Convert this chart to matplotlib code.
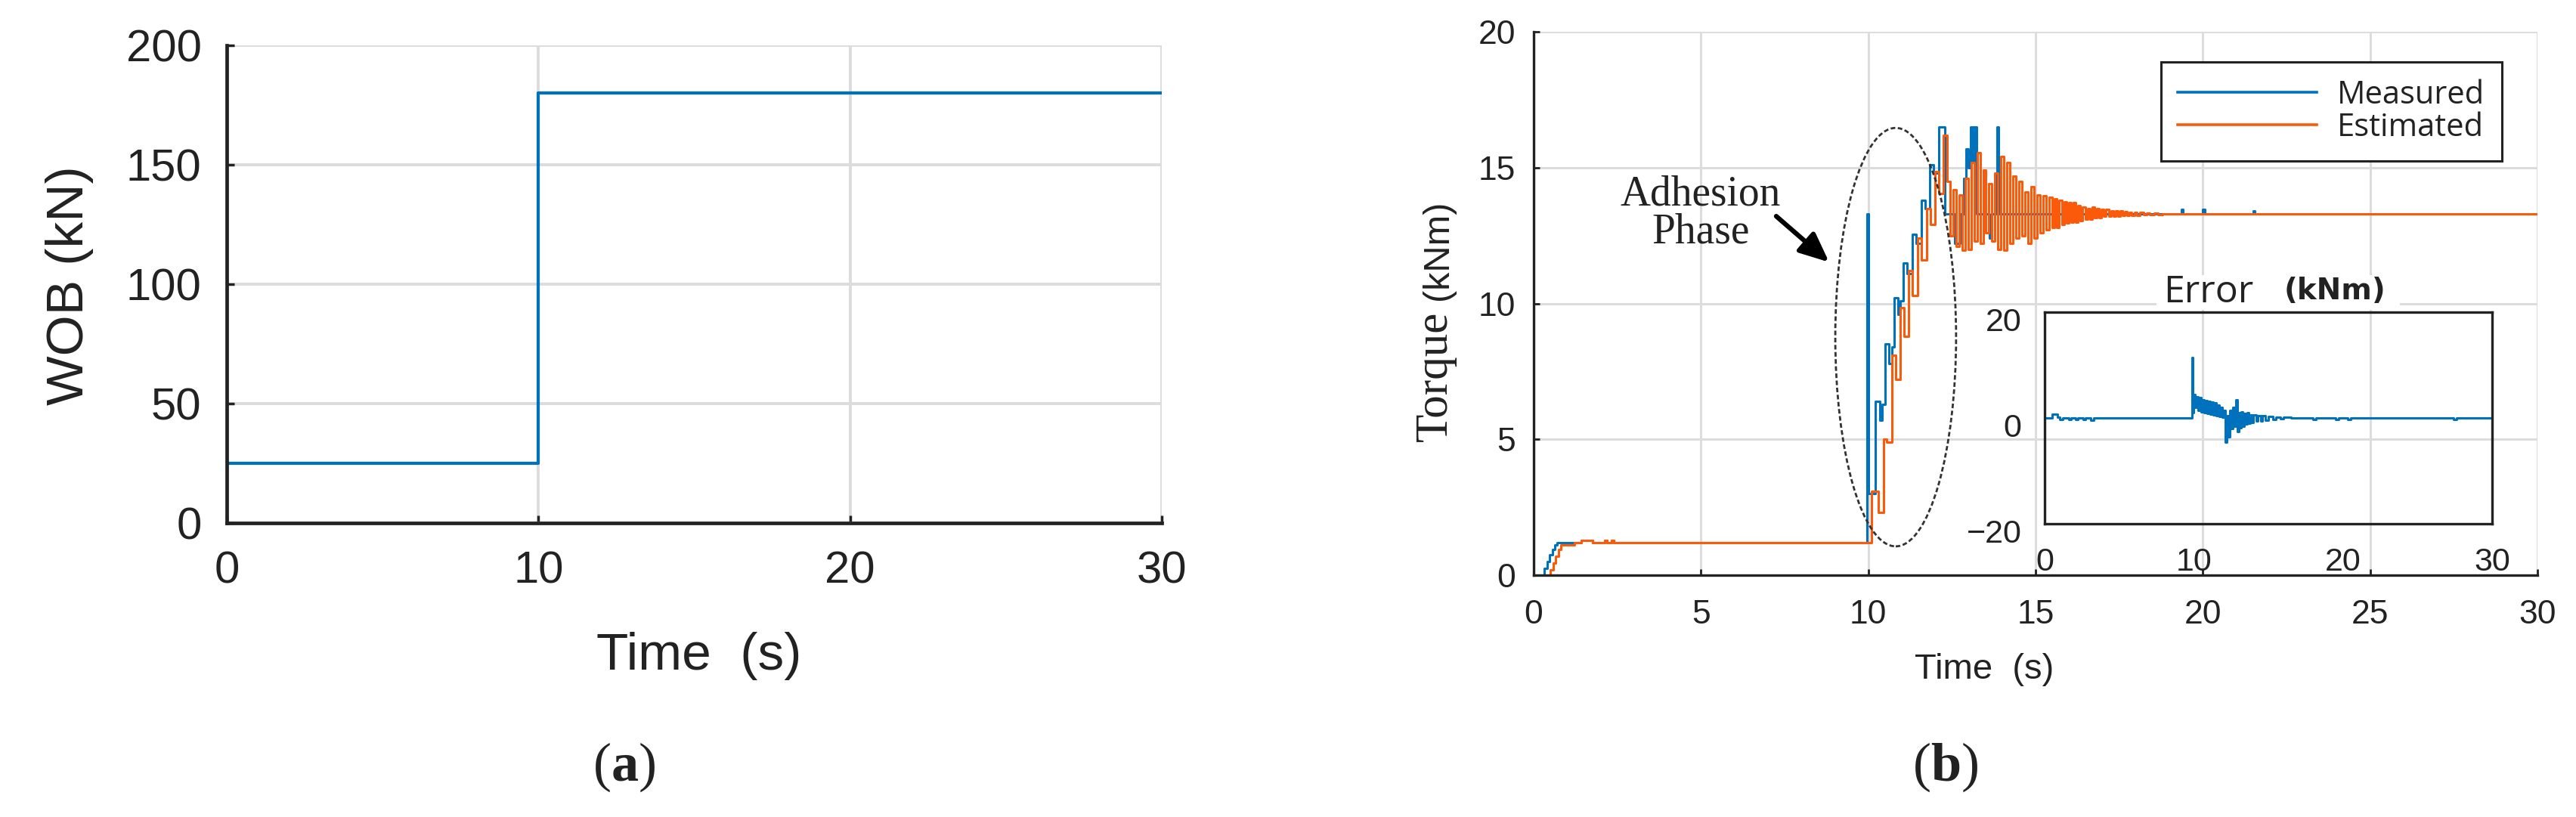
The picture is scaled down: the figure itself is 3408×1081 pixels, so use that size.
import matplotlib
matplotlib.use("Agg")
import matplotlib.pyplot as plt
import matplotlib.transforms as mtransforms
from matplotlib.patches import Ellipse, Rectangle

W, H, DPI = 3408, 1081, 100

# ---------------- data ----------------
wob_time = [0, 10, 30]
wob_kn = [25, 180, 180]

meas_time = [0, 0.32, 0.40, 0.48, 0.56, 0.64, 0.70, 1.42, 1.76, 2.12, 2.20, 2.33, 2.40,
             9.96, 10.00, 10.20, 10.35, 10.42, 10.50, 10.62, 10.70, 10.77, 10.88, 10.95,
             11.05, 11.16, 11.31, 11.42, 11.59, 11.70, 11.84, 11.95, 12.11, 12.29, 12.58,
             12.75, 12.85, 12.92, 13.00, 13.05, 13.12, 13.18, 13.23, 13.62, 13.70, 13.85,
             13.90, 16.90, 16.95, 19.35, 19.40, 20.00, 20.05, 21.50, 21.55, 30]
meas_torque = [0, 0.25, 0.5, 0.75, 0.95, 1.1, 1.2, 1.28, 1.2, 1.28, 1.2, 1.28, 1.2,
               13.3, 3.0, 6.4, 5.7, 6.3, 8.5, 7.8, 8.4, 10.2, 9.6, 10.1,
               11.5, 11.1, 12.55, 12.2, 13.8, 13.5, 15.1, 14.8, 16.5, 13.3, 12.2,
               13.3, 14.6, 15.7, 15.0, 16.5, 15.2, 16.5, 13.3, 12.4, 13.3, 16.5,
               13.3, 13.2, 13.3, 13.45, 13.3, 13.45, 13.3, 13.4, 13.3, 13.3]

est_time = [0, 0.50, 0.58, 0.66, 0.74, 0.82, 1.22, 1.42, 1.76, 2.12,
            2.20, 2.33, 2.40, 10.10, 10.30, 10.45, 10.55, 10.70, 10.82, 10.96,
            11.06, 11.20, 11.32, 11.47, 11.58, 11.74, 11.85, 12.00, 12.10, 12.25,
            12.35, 12.44, 12.53, 12.62, 12.71, 12.80, 12.89, 12.98, 13.07, 13.16,
            13.25, 13.34, 13.43, 13.52, 13.61, 13.70, 13.79, 13.88, 13.97, 14.06,
            14.15, 14.24, 14.33, 14.42, 14.51, 14.60, 14.69, 14.78, 14.87, 14.96,
            15.05, 15.14, 15.23, 15.32, 15.41, 15.50, 15.57, 15.64, 15.71, 15.78,
            15.85, 15.92, 15.99, 16.06, 16.13, 16.20, 16.27, 16.34, 16.41, 16.48,
            16.55, 16.62, 16.69, 16.76, 16.83, 16.90, 16.97, 17.04, 17.11, 17.18,
            17.25, 17.32, 17.39, 17.46, 17.53, 17.60, 17.67, 17.74, 17.81, 17.88,
            17.95, 18.02, 18.12, 18.22, 18.32, 18.42, 18.55, 18.65, 18.80, 30]
est_torque = [0, 0.2, 0.45, 0.7, 0.95, 1.11, 1.2, 1.28, 1.2, 1.28,
              1.2, 1.28, 1.2, 3.1, 2.3, 5.0, 4.9, 8.1, 7.2, 9.85,
              8.8, 11.2, 10.3, 12.4, 11.6, 13.5, 12.9, 14.85, 14.05, 16.2,
              14.5, 12.5, 14.2, 12.1, 14.0, 11.95, 14.6, 12.0, 15.2, 12.3,
              15.55, 12.2, 14.9, 12.6, 14.4, 12.3, 14.8, 12.0, 15.4, 11.95,
              15.2, 12.2, 14.7, 12.4, 14.5, 12.5, 14.1, 12.2, 14.3, 12.4,
              14.0, 12.6, 13.95, 12.7, 13.9, 12.8, 13.85, 12.8, 13.8, 12.9,
              13.75, 12.95, 13.7, 13.0, 13.7, 13.0, 13.6, 13.05, 13.55, 13.1,
              13.5, 13.1, 13.55, 13.15, 13.5, 13.15, 13.45, 13.2, 13.45, 13.2,
              13.4, 13.2, 13.4, 13.22, 13.4, 13.23, 13.37, 13.24, 13.36, 13.25,
              13.35, 13.25, 13.34, 13.26, 13.33, 13.27, 13.32, 13.28, 13.3, 13.3]

err_time = [0, 0.5, 0.85, 1.0, 1.2, 1.6, 1.75, 2.1, 2.25, 2.6, 2.75, 3.1, 3.3,
            9.9, 9.95, 10.0, 10.1, 10.2, 10.3, 10.4, 10.5, 10.6, 10.7, 10.8, 10.9,
            11.0, 11.1, 11.2, 11.3, 11.4, 11.5, 11.6, 11.7, 11.8, 11.9, 12.0, 12.1,
            12.2, 12.3, 12.4, 12.5, 12.6, 12.7, 12.8, 12.9, 13.0, 13.1, 13.2, 13.3,
            13.4, 13.5, 13.6, 13.7, 13.8, 13.9, 14.0, 14.2, 14.3, 14.5, 14.6, 14.8,
            15.0, 15.3, 15.5, 15.8, 16.0, 16.5, 18.0, 18.2, 19.5, 19.7, 20.3, 20.5,
            27.4, 27.6, 29.9]
err_value = [0, 0.7, 0.1, -0.3, 0, -0.35, 0, -0.35, 0, -0.35, 0, -0.4, 0,
             11.5, 1.0, 4.5, 2.0, 4.0, 1.5, 3.8, 1.2, 3.5, 1.0, 3.3, 0.8,
             3.2, 0.7, 3.0, 0.6, 2.8, 0.5, 2.5, 0.3, 2.0, 0.2, 1.5, -4.5,
             0.5, -3.5, 1.5, -2.0, 2.0, -1.5, 3.5, -2.5, 1.0, -1.8, 1.2, -1.5,
             0.8, -1.2, 1.0, -1.0, 0.6, -0.8, 0.6, -0.6, 0.5, -0.5, 0.4, -0.4,
             0.3, -0.3, 0.2, -0.2, 0.2, 0, -0.3, 0, -0.3, 0, -0.3, 0,
             -0.25, 0, 0]

a_xticks = [0, 10, 20, 30]
a_yticks = [0, 50, 100, 150, 200]
b_xticks = [0, 5, 10, 15, 20, 25, 30]
b_yticks = [0, 5, 10, 15, 20]
in_xticks = [0, 10, 20, 30]
in_yticks = [-20, 0, 20]
legend_labels = ["Measured", "Estimated"]

BLUE = "#0072BD"
ORANGE = "#FA5A0A"
GRID = "#DCDCDC"
INK = "#222222"

plt.rcParams["font.family"] = ["Liberation Sans", "DejaVu Sans"]
plt.rcParams["mathtext.fontset"] = "custom"
plt.rcParams["mathtext.rm"] = "Liberation Serif"
plt.rcParams["mathtext.bf"] = "Liberation Serif:bold"
plt.rcParams["text.color"] = INK

fig = plt.figure(figsize=(W / DPI, H / DPI), dpi=DPI)


def rect(l, t, r, b):
    return [l / W, 1 - b / H, (r - l) / W, (b - t) / H]


def fx(px):
    return px / W


def fy(py):
    return 1 - py / H


def style_axes(ax, spine_lw, tick_len, tick_w, labelsize, pad_x, pad_y):
    for s in ["top", "right"]:
        ax.spines[s].set_visible(False)
    for s in ["left", "bottom"]:
        ax.spines[s].set_linewidth(spine_lw)
        ax.spines[s].set_color(INK)
    ax.tick_params(direction="in", length=tick_len, width=tick_w, colors=INK,
                   labelsize=labelsize)
    ax.tick_params(axis="x", pad=pad_x)
    ax.tick_params(axis="y", pad=pad_y)
    ax.set_axisbelow(True)


# ---------------- panel (a) ----------------
ax_a = fig.add_axes(rect(300, 60, 1537, 692))
ax_a.step(wob_time, wob_kn, where="post", color=BLUE, lw=3)
ax_a.set_xlim(0, 30)
ax_a.set_ylim(0, 200)
ax_a.set_xticks(a_xticks)
ax_a.set_yticks(a_yticks)
ax_a.grid(True, color=GRID, lw=2.8)
style_axes(ax_a, 3.4, 7, 2.5, 43, 26, 24)

fig.text(fx(92), fy(378), "WOB (kN)", rotation=90, ha="center", va="center", fontsize=50)
fig.text(fx(925), fy(868), "Time  (s)", ha="center", va="center", fontsize=50)
fig.text(fx(826), fy(1015), r"($\mathbf{a}$)", ha="center", va="center", fontsize=52,
         family="Liberation Serif")

# ---------------- panel (b) ----------------
ax_b = fig.add_axes(rect(2029, 42, 3357, 761))
ax_b.set_zorder(0)
l1, = ax_b.step(meas_time, meas_torque, where="post", color=BLUE, lw=2.2)
l2, = ax_b.step(est_time, est_torque, where="post", color=ORANGE, lw=2.2)
ax_b.set_xlim(0, 30)
ax_b.set_ylim(0, 20)
ax_b.set_xticks(b_xticks)
ax_b.set_yticks(b_yticks)
ax_b.grid(True, color=GRID, lw=2.2)
style_axes(ax_b, 2.4, 6, 2.0, 32, 23, 17)

# adhesion-phase annotation
ax_b.add_patch(Ellipse((10.82, 8.76), 3.61, 15.4, fill=False, ec="#333333", lw=2.0,
                       ls=(0, (2.2, 1.2)), clip_on=False, zorder=5))
ax_b.annotate("", xy=(8.83, 11.52), xytext=(7.25, 13.21),
              arrowprops=dict(arrowstyle="-|>,head_length=0.9,head_width=0.4",
                              mutation_scale=26, lw=4.5, color="black",
                              shrinkA=0, shrinkB=0))
fig.text(fx(2250), fy(258), "Adhesion", ha="center", va="center", fontsize=40,
         family="Liberation Serif")
fig.text(fx(2250), fy(307), "Phase", ha="center", va="center", fontsize=40,
         family="Liberation Serif")

leg = ax_b.legend([l1, l2], legend_labels, loc="upper right",
                  bbox_to_anchor=(fx(3310), fy(82)), bbox_transform=fig.transFigure,
                  borderaxespad=0, frameon=True, fancybox=False, framealpha=1,
                  edgecolor=INK, prop={"family": "Open Sans", "size": 30},
                  handlelength=4.4, handletextpad=0.65, borderpad=0.55,
                  labelspacing=0.02)
leg.get_frame().set_linewidth(2.2)
for ln in leg.get_lines():
    ln.set_linewidth(2.6)

fig.text(fx(1899), fy(498), "Torque", rotation=90, ha="center", va="center", fontsize=44,
         family="Liberation Serif")
fig.text(fx(1903), fy(331), "(kNm)", rotation=90, ha="center", va="center", fontsize=35)
fig.text(fx(2625), fy(886), "Time  (s)", ha="center", va="center", fontsize=34)
fig.text(fx(2574), fy(1015), r"($\mathbf{b}$)", ha="center", va="center", fontsize=52,
         family="Liberation Serif")

# white patch behind the inset title (hides the main grid line there)
fig.add_artist(Rectangle((fx(2853), fy(410)), (3175 - 2853) / W, 46 / H,
                         transform=fig.transFigure, facecolor="white",
                         edgecolor="none", zorder=0.5))

# ---------------- inset ----------------
ax_in = fig.add_axes(rect(2705, 413, 3297, 693))
ax_in.set_zorder(1)
ax_in.set_facecolor("none")
ax_in.step(err_time, err_value, where="post", color=BLUE, lw=2.2)
ax_in.set_xlim(0, 30)
ax_in.set_ylim(-20, 20)
ax_in.set_xticks(in_xticks)
ax_in.set_yticks(in_yticks)
for s in ax_in.spines.values():
    s.set_linewidth(2.4)
    s.set_color(INK)
ax_in.tick_params(length=0, labelsize=31, colors=INK)
ax_in.tick_params(axis="x", pad=22)
ax_in.tick_params(axis="y", pad=22)
shift_down = mtransforms.ScaledTranslation(0, -0.09, fig.dpi_scale_trans)
for lab in ax_in.get_yticklabels():
    lab.set_transform(lab.get_transform() + shift_down)

fig.text(fx(2862), fy(387), "Error", ha="left", va="center", fontsize=36,
         family="Open Sans", zorder=3)
fig.text(fx(3022), fy(385), "(kNm)", ha="left", va="center", fontsize=28,
         fontweight="bold", family="DejaVu Sans", zorder=3)

fig.savefig("out.png", dpi=DPI)
